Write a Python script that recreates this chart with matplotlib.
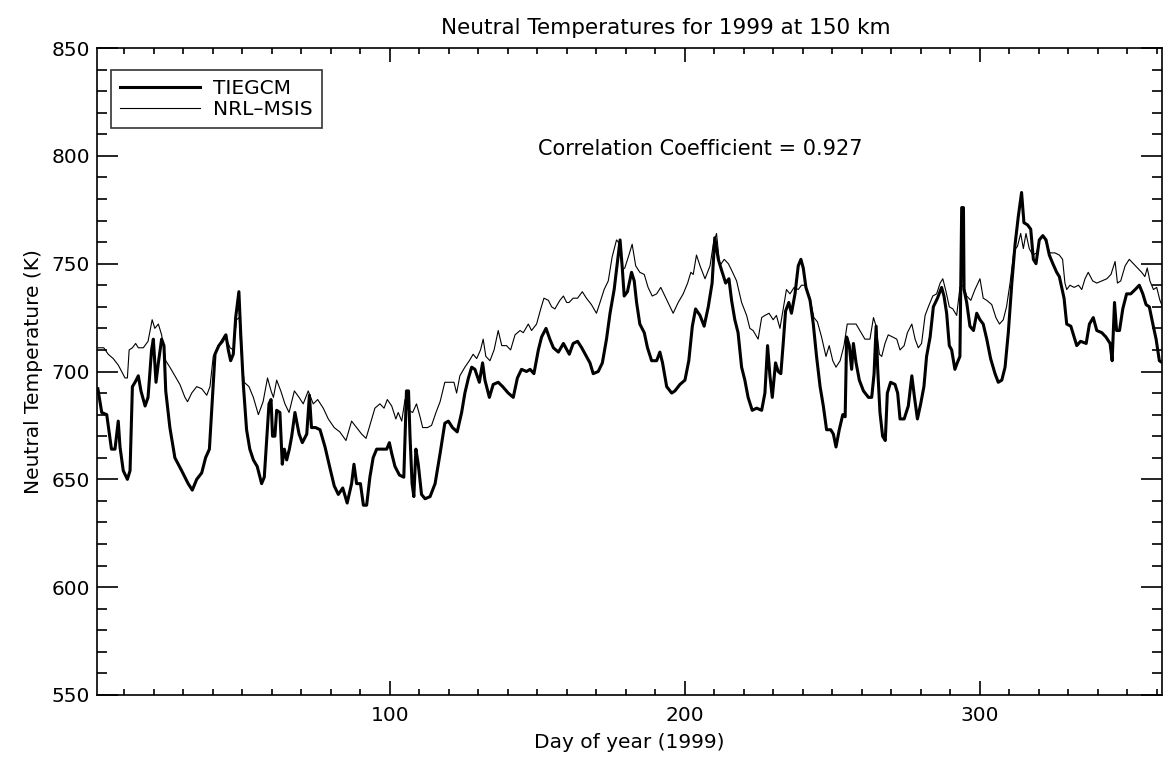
import matplotlib
matplotlib.use("Agg")
import matplotlib.pyplot as plt
from matplotlib.ticker import MultipleLocator

# TIEGCM neutral temperature (K) vs day of year
tie_day = [1, 2.3, 4, 5.6, 6.8, 7.9, 8.5, 9.6, 11, 11.9, 12.7, 13.6, 14.7, 15.6, 17, 18, 19.2, 19.8,
           20.7, 21.5, 22.6, 23.4, 24, 25.4, 27.1, 29.4, 31.6, 33, 34.5, 36.2, 37.5, 38.8, 39.8,
           40.7, 42, 43.2, 44.4, 45.2, 46, 46.9, 47.7, 48.8, 49.4, 50.3, 51.4, 52.5, 53.7, 55,
           56.5, 57.4, 58.2, 59, 59.7, 60.2, 61, 61.6, 62.7, 63.5, 64.2, 65, 65.9, 66.7, 67.8,
           69.2, 70.3, 71.8, 72.7, 73.4, 74.8, 76.3, 78, 79.7, 81.1, 82.5, 84, 85.5, 87, 87.8,
           88.7, 90, 91, 92.1, 93.2, 94.3, 95.5, 96.6, 98.9, 99.8, 100.6, 101.7, 103.2, 104.7,
           105.6, 106.3, 106.8, 107.5, 108.1, 108.8, 109.6, 110.7, 111.9, 113.6, 115.3, 117,
           118.6, 119.8, 121.2, 122.8, 124.3, 125.4, 126.6, 127.7, 128.8, 130.3, 131.4, 132.2,
           133.7, 135, 136.7, 138.2, 140.1, 141.8, 143.2, 144.6, 146.3, 147.5, 148.8, 150.3,
           151.4, 152.9, 154.2, 155.4, 157.1, 158.8, 160.8, 162.1, 163.6, 165, 166.6, 167.8,
           168.9, 170.6, 172, 173.4, 174.6, 176, 177.2, 178, 178.7, 179.4, 180.5, 181.9, 182.8,
           183.6, 184.7, 186.2, 187.3, 188.7, 190.4, 191.5, 192.4, 193.8, 195.5, 196.6, 198.3,
           200, 201.3, 202.5, 203.6, 205.1, 206.5, 207.9, 209.2, 210.1, 211.3, 212.4, 213.8,
           214.9, 215.8, 216.9, 218, 219.2, 220.3, 221.4, 222.8, 224.3, 226, 227.1, 228, 228.8,
           229.6, 230.7, 231.6, 232.5, 233.3, 234.1, 235.2, 236.1, 237.3, 238.4, 239.3, 240.1,
           241, 242.4, 243.5, 244.6, 245.8, 246.9, 248, 249.4, 250.3, 251.2, 252.3, 253.5,
           254.3, 254.8, 255.7, 256.5, 257.1, 258, 259.1, 260.5, 262.2, 263.3, 264.1, 264.8,
           265.3, 266.1, 267, 267.9, 268.6, 269.7, 271.2, 272.1, 272.9, 274.3, 275.7, 276.9,
           277.8, 278.8, 279.9, 281, 281.9, 283.1, 284.2, 285.6, 287, 287.8, 288.7, 289.6,
           290.4, 291.5, 292.3, 293.2, 293.8, 294.4, 294.6, 295.5, 296.6, 297.8, 298.9, 300,
           301.1, 302.3, 303.6, 305.1, 306.2, 307.4, 308.5, 309.6, 310.8, 311.9, 313, 314.1,
           314.9, 316.1, 317.2, 318.1, 319, 320.1, 321.3, 322.4, 323.5, 324.7, 326, 326.9,
           327.7, 328.5, 329.4, 330.8, 331.9, 332.8, 334.1, 336, 337.1, 338.4, 339.6, 341.3,
           342.7, 344.1, 344.8, 345.6, 346.3, 347.3, 348.4, 349.7, 351.1, 352.6, 354, 355.2,
           356.3, 357.4, 358.6, 359.7, 360.8, 361.9]
tie_temp = [692, 681, 680, 664, 664, 677, 665, 654, 650, 654, 693, 695, 698, 691, 684, 688, 710, 715,
            695, 704, 715, 712, 691, 674, 660, 654, 648, 645, 650, 653, 660, 664, 687,
            708, 712, 714, 717, 710, 705, 708, 725, 737, 718, 694, 673, 664, 659, 656,
            648, 651, 668, 685, 687, 670, 670, 682, 681, 657, 664, 659, 664, 670, 681,
            671, 667, 671, 689, 674, 674, 673, 665, 655, 647, 643, 646, 639, 648, 657,
            648, 648, 638, 638, 651, 660, 664, 664, 664, 667, 662, 656, 652, 651,
            691, 691, 670, 648, 642, 664, 657, 643, 641, 642, 648, 662,
            676, 677, 674, 672, 681, 690, 697, 702, 701, 695, 704, 696,
            688, 694, 695, 693, 690, 688, 697, 701, 700, 701, 699, 710,
            716, 720, 715, 711, 709, 713, 708, 713, 714, 711, 707, 704,
            699, 700, 704, 715, 727, 738, 752, 761, 749, 735, 737, 746, 742,
            732, 722, 718, 711, 705, 705, 709, 704, 693, 690, 691, 694,
            696, 705, 721, 729, 726, 721, 730, 741, 762, 752, 747, 741,
            743, 733, 724, 718, 702, 696, 688, 682, 683, 682, 690, 712, 698,
            688, 704, 700, 699, 713, 728, 732, 727, 736, 749, 752, 748,
            739, 733, 722, 707, 693, 684, 673, 673, 671, 665, 673, 680,
            679, 716, 712, 701, 713, 704, 696, 691, 688, 688, 699, 721,
            702, 681, 670, 668, 690, 695, 694, 690, 678, 678, 684, 698,
            688, 678, 685, 693, 707, 716, 730, 734, 739, 735, 727, 712,
            710, 701, 704, 707, 776, 776, 738, 732, 721, 719, 727, 724,
            722, 715, 706, 699, 695, 696, 702, 718, 741, 759, 772, 783,
            769, 768, 766, 752, 750, 761, 763, 761, 754, 750, 746, 744,
            739, 734, 722, 721, 716, 712, 714, 713, 722, 725, 719, 718,
            716, 713, 705, 732, 719, 719, 729, 736, 736, 738, 740, 736,
            731, 730, 722, 715, 705, 704]

# NRL-MSIS neutral temperature (K)
msis_day = [1, 3, 4.5, 6.2, 7.9, 10.2, 11, 11.6, 12.7, 13.8, 14.7, 16.4, 18, 19.4, 20.3, 21.5, 22.6,
            24, 25.4, 27.1, 28.8, 30.5, 31.4, 32.8, 34.5, 36.2, 37.9, 39, 40.1, 41.8, 44, 45.8,
            46.9, 48, 48.9, 49.5, 50.6, 52.2, 53.7, 55.4, 57, 58.5, 59.7, 60.5, 61.6, 63, 64.4,
            65.8, 67.6, 69.2, 70.6, 72.3, 74, 75.5, 77.4, 79.1, 81.1, 83, 85.1, 87, 88.7, 90.4,
            91.9, 93.4, 94.9, 96.6, 98, 99.1, 100.6, 102, 102.8, 104, 105.1, 106.2, 107.7, 109,
            110.2, 111.1, 112.7, 114.1, 115.6, 117, 118.6, 120.3, 121.7, 122.6, 123.7, 125.4,
            126.9, 128.2, 129.4, 130.7, 131.6, 132.5, 133.9, 135.3, 136.7, 137.9, 139.5, 140.9,
            142.4, 144.1, 145.2, 146.9, 148, 149.7, 151.1, 152.2, 153.7, 154.8, 155.9, 157.6,
            158.8, 159.9, 160.7, 162.1, 163.6, 165.2, 166.6, 168.3, 170, 171.2, 172.6, 174,
            175.3, 176.8, 178, 178.7, 179.6, 181, 182.1, 183.3, 184.7, 186.2, 187.5, 188.9,
            190.4, 191.8, 193.2, 194.6, 196, 197.7, 199.4, 200.9, 202, 202.8, 203.9, 205.1,
            206.8, 208.5, 209.6, 210.7, 211.8, 213.3, 214.7, 215.8, 217.5, 219.2, 220.9, 222,
            223.1, 224.8, 226, 227.1, 228.5, 229.9, 231, 232.2, 233.3, 234.4, 235.6, 237, 238.4,
            239.5, 240.7, 242.2, 243.7, 244.9, 246.3, 247.8, 248.9, 250.1, 251.2, 252.6, 253.9,
            255, 256.5, 258, 259.3, 261, 262.7, 263.9, 264.8, 265.9, 266.7, 267.8, 268.9, 270.4,
            271.8, 272.9, 274.3, 275.4, 276.9, 278, 279.1, 280.2, 281.4, 282.5, 284, 285.3,
            286.5, 287.4, 288.5, 289.6, 290.8, 292.1, 293.2, 294.4, 295.5, 296.9, 298.3, 300,
            301.1, 302.3, 304, 305.4, 306.6, 307.9, 309, 310.2, 311.5, 312.7, 313.8, 314.7,
            315.6, 316.7, 317.9, 319.2, 320.4, 321.5, 322.6, 323.7, 325.4, 326.9, 328, 328.8,
            329.4, 330.5, 331.9, 333.4, 334.5, 335.6, 336.7, 338.2, 339.6, 341.3, 343, 344.4,
            345.8, 346.6, 347.7, 349.2, 350.6, 352, 353.4, 354.8, 355.9, 356.7, 357.6, 358.8,
            359.9, 361, 361.9]
msis_temp = [711, 711, 708, 706, 703, 697, 697, 710, 711, 713, 711, 711, 714, 724, 720, 722, 717,
             705, 702, 698, 694, 688, 686, 690, 693, 692, 689, 693, 707, 712, 717, 711,
             710, 724, 725, 710, 695, 693, 688, 680, 686, 697, 691, 688, 696, 691, 685,
             681, 691, 688, 685, 691, 685, 687, 683, 678, 674, 672, 668, 677, 674, 671,
             669, 676, 683, 685, 683, 687, 684, 678, 681, 677, 687, 682, 681, 685,
             679, 674, 674, 675, 681, 686, 695, 695, 695, 690, 698, 702,
             705, 708, 706, 710, 715, 707, 705, 710, 719, 712, 712, 710,
             717, 719, 718, 722, 719, 722, 729, 734, 733, 730, 729, 733,
             735, 732, 732, 734, 734, 737, 734, 731, 727, 732, 738, 742,
             753, 761, 759, 747, 748, 754, 759, 749, 746, 745, 739, 735,
             736, 739, 735, 731, 727, 732, 736, 741, 746, 745, 754, 749,
             743, 749, 759, 764, 749, 752, 750, 747, 742, 732, 726, 720,
             719, 715, 725, 726, 727, 724, 726, 720, 729, 738, 736, 739, 738,
             740, 740, 735, 725, 723, 716, 707, 712, 705, 702, 705, 712,
             722, 722, 722, 719, 715, 715, 725, 721, 708, 707, 713, 717, 716,
             715, 710, 712, 718, 722, 715, 711, 713, 726, 730, 735, 736,
             741, 743, 737, 730, 729, 726, 739, 740, 735, 733, 738, 743,
             734, 733, 731, 725, 722, 724, 730, 741, 756, 758, 764, 757,
             764, 757, 754, 755, 762, 763, 759, 755, 755, 754, 752, 741,
             738, 740, 739, 740, 738, 743, 746, 742, 741, 742, 743, 745,
             751, 741, 742, 749, 752, 750, 748, 746, 744, 748, 742, 738,
             739, 733, 730]

title = "Neutral Temperatures for 1999 at 150 km"
corr_text = "Correlation Coefficient = 0.927"

plt.rcParams["font.family"] = "DejaVu Sans"
fs = 14.5

fig = plt.figure(figsize=(11.63, 7.63), dpi=100)
ax = fig.add_axes([97 / 1163, 68 / 763, 1065 / 1163, 647 / 763])

ax.plot(tie_day, tie_temp, color="black", linewidth=2.2, label="TIEGCM")
ax.plot(msis_day, msis_temp, color="black", linewidth=0.8, label="NRL\u2013MSIS")

ax.set_xlim(0.7, 361.7)
ax.set_ylim(550, 850)
ax.xaxis.set_major_locator(MultipleLocator(100))
ax.xaxis.set_minor_locator(MultipleLocator(10))
ax.yaxis.set_major_locator(MultipleLocator(50))
ax.yaxis.set_minor_locator(MultipleLocator(10))
ax.tick_params(axis="both", which="both", direction="in", top=True, right=True,
               labelsize=fs, width=1.2)
ax.tick_params(axis="x", which="major", length=10, pad=8)
ax.tick_params(axis="x", which="minor", length=4.5)
ax.tick_params(axis="y", which="major", length=15, pad=5)
ax.tick_params(axis="y", which="minor", length=7)
for sp in ax.spines.values():
    sp.set_linewidth(1.2)

ax.set_xlabel("Day of year (1999)", fontsize=fs, labelpad=6)
ax.set_ylabel("Neutral Temperature (K)", fontsize=fs, labelpad=6)
fig.text(666 / 1163, 1 - 28 / 763, title, fontsize=fs + 1, ha="center", va="center")
ax.text(150.2, 803, corr_text, fontsize=fs + 0.5, ha="left", va="center")

leg = ax.legend(loc="upper left", bbox_to_anchor=(0.0129, 0.966), borderaxespad=0,
                fontsize=fs, frameon=True, fancybox=False, edgecolor="black",
                handlelength=4.0, handletextpad=0.65, labelspacing=0.1, borderpad=0.45)
leg.get_frame().set_linewidth(1.2)

fig.savefig("out.png", dpi=100)
